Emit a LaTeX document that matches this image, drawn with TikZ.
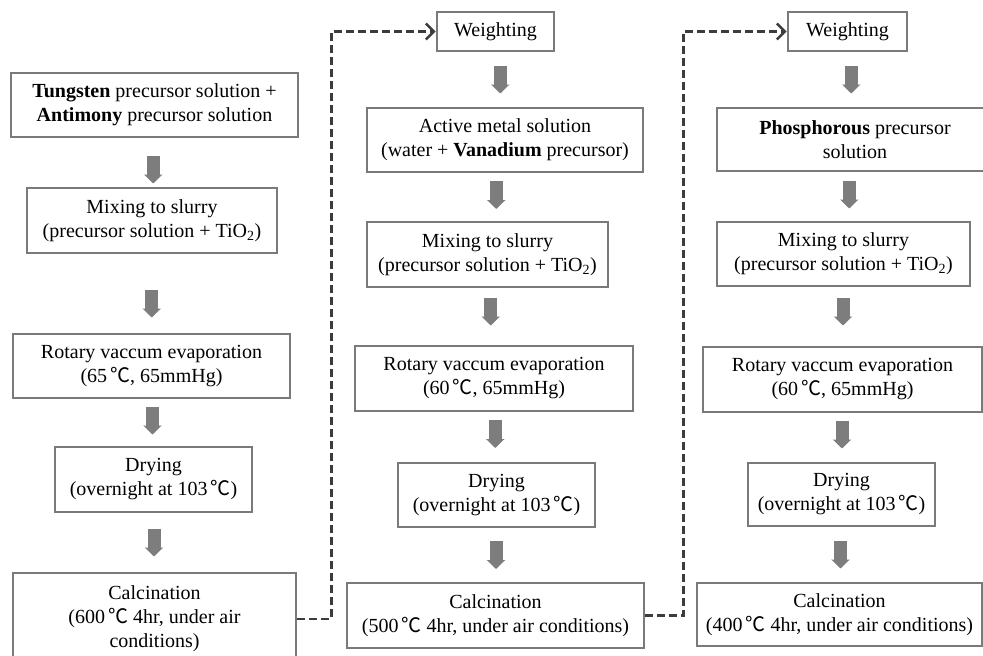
\documentclass[tikz,border=0pt]{standalone}
\usepackage{fontspec}
\setmainfont{Liberation Serif}
\newfontfamily\cjk{Noto Sans CJK KR}
\usetikzlibrary{arrows.meta, positioning, calc}
\definecolor{boxGray}{RGB}{122, 122, 122}
\definecolor{flowGray}{RGB}{125, 125, 125}
\definecolor{loopGray}{RGB}{60, 60, 60}
\newcommand{\degC}{\kern3pt{\cjk ℃}}
\tikzset{
    procBox/.style={draw=boxGray, line width=2.6pt, fill=white, align=center,
        inner sep=0pt, font=\fontsize{20}{24}\selectfont},
    flowArrow/.style={flowGray, line width=13pt, -{Triangle[length=9pt, width=18pt]}},
    loopLine/.style={loopGray, line width=2.6pt, dash pattern=on 8pt off 4pt,
        -{Straight Barb[length=8pt, width=16pt, line width=2.6pt]}},
}
\newcommand{\flowDown}[3][0]{%
    \draw[flowArrow] ($(#2.south)!.5!(#3.north)+(0,#1-14)$) -- ++(0,28);}

\begin{document}
\begin{tikzpicture}[x=1pt, y=-1pt]

    % Frame
    \useasboundingbox (0,0) rectangle (983,656);
    \clip (0,0) rectangle (983,656);

    % Tungsten + antimony
    \node[procBox, minimum width=287pt, minimum height=64pt] (tungSol) at (154.5,105)
        {\textbf{Tungsten} precursor solution +\\\textbf{Antimony} precursor solution};
    \node[procBox, minimum width=250pt, minimum height=65pt] (mixA) at (152,220.5)
        {Mixing to slurry\\(precursor solution + TiO\textsubscript{2})};
    \node[procBox, minimum width=277pt, minimum height=64pt] (rotA) at (151.5,366)
        {Rotary vaccum evaporation\\(65\degC, 65mmHg)};
    \node[procBox, minimum width=197pt, minimum height=65pt] (dryA) at (153.5,479.5)
        {Drying\\(overnight at 103\degC)};
    \node[procBox, minimum width=283pt, minimum height=92pt] (calcA) at (154.5,619)
        {Calcination\\(600\degC{} 4hr, under air\\conditions)};

    % Vanadium
    \node[procBox, minimum width=117pt, minimum height=39pt] (weighB) at (495.5,31.5)
        {Weighting};
    \node[procBox, minimum width=276pt, minimum height=64pt] (activeB) at (505,140)
        {Active metal solution\\(water + \textbf{Vanadium} precursor)};
    \node[procBox, minimum width=241pt, minimum height=65pt] (mixB) at (487.5,254.5)
        {Mixing to slurry\\(precursor solution + TiO\textsubscript{2})};
    \node[procBox, minimum width=278pt, minimum height=65pt] (rotB) at (494,378.5)
        {Rotary vaccum evaporation\\(60\degC, 65mmHg)};
    \node[procBox, minimum width=197pt, minimum height=64pt] (dryB) at (496.5,495)
        {Drying\\(overnight at 103\degC)};
    \node[procBox, minimum width=297pt, minimum height=65pt] (calcB) at (495.5,615.5)
        {Calcination\\(500\degC{} 4hr, under air conditions)};

    % Phosphorous
    \node[procBox, minimum width=119pt, minimum height=39pt] (weighC) at (847.5,31.5)
        {Weighting};
    \node[procBox, minimum width=276pt, minimum height=63pt] (phosC) at (855,139.5)
        {\textbf{Phosphorous} precursor\\solution};
    \node[procBox, minimum width=253pt, minimum height=64pt] (mixC) at (843.5,254)
        {Mixing to slurry\\(precursor solution + TiO\textsubscript{2})};
    \node[procBox, minimum width=279pt, minimum height=65pt] (rotC) at (842.5,379.5)
        {Rotary vaccum evaporation\\(60\degC, 65mmHg)};
    \node[procBox, minimum width=187pt, minimum height=63pt] (dryC) at (841.5,494.5)
        {Drying\\(overnight at 103\degC)};
    \node[procBox, minimum width=285pt, minimum height=63pt] (calcC) at (839.5,614.5)
        {Calcination\\(400\degC{} 4hr, under air conditions)};

    % Flow arrows
    \flowDown[7]{tungSol}{mixA}
    \flowDown[10]{mixA}{rotA}
    \flowDown[-2]{rotA}{dryA}
    \flowDown{dryA}{calcA}
    \flowDown{weighB}{activeB}
    \flowDown[-2]{activeB}{mixB}
    \flowDown[-5]{mixB}{rotB}
    \flowDown[-3]{rotB}{dryB}
    \flowDown{dryB}{calcB}
    \flowDown{weighC}{phosC}
    \flowDown[-2]{phosC}{mixC}
    \flowDown[-5]{mixC}{rotC}
    \flowDown[-3]{rotC}{dryC}
    \flowDown{dryC}{calcC}

    % Back to weighting
    \draw[loopLine] (calcA.east) -- ++(34,0) |- (weighB.west);
    \draw[loopLine] (calcB.east) -- ++(38,0) |- (weighC.west);

\end{tikzpicture}
\end{document}
